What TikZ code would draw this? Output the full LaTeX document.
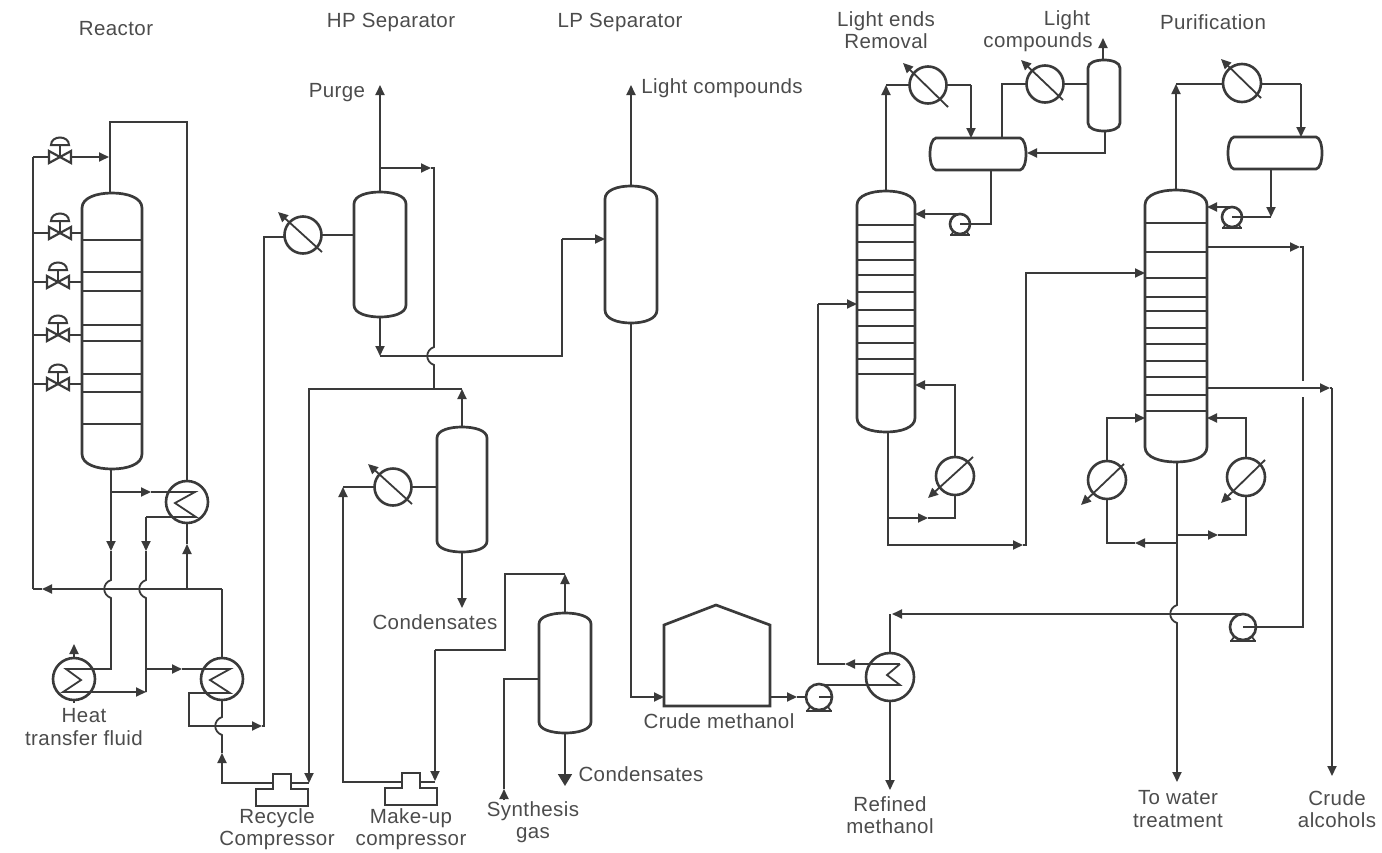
\documentclass[tikz,border=0pt]{standalone}
\usepackage{fontspec}
\setmainfont{Liberation Sans}[LetterSpace=2]
\usetikzlibrary{arrows.meta,calc}
\definecolor{ink}{HTML}{3A3A3A}
\definecolor{txt}{HTML}{4C4C4C}
\tikzset{
 pipeln/.style={draw=ink,line width=1.8pt,line join=miter},
 flowtip/.style={-{Triangle[length=10pt,width=9pt]}},
 bigtip/.style={-{Triangle[length=12pt,width=14pt]}},
 shell/.style={draw=ink,line width=2.7pt,fill=white},
 tray/.style={draw=ink,line width=1.7pt},
 box/.style={inner sep=0pt,outer sep=0pt,draw=none},
 hx/.style={circle,inner sep=0pt,outer sep=0pt,draw=ink,line width=2.6pt,fill=white},
 lab/.style={text=txt,align=center,inner sep=0pt,font=\fontsize{20.5}{22.5}\selectfont},
}
% a hop of a vertical line over a horizontal one, written top to bottom
\def\hop#1#2{-- (#1,#2-9) .. controls (#1-9,#2-6) and (#1-9,#2+6) .. (#1,#2+9)}
\newcommand{\vessel}[6]{% name x1 y1 x2 y2 head
 \pgfmathsetmacro{\vW}{#4-#2}\pgfmathsetmacro{\vH}{#5-#3}
 \pgfmathsetmacro{\vX}{(#2+#4)/2}\pgfmathsetmacro{\vY}{(#3+#5)/2}
 \pgfmathsetmacro{\vQ}{0.25*\vW}
 \node[box,minimum width=\vW pt,minimum height=\vH pt] (#1) at (\vX,\vY) {};
 \draw[shell] (#2,#5-#6) -- (#2,#3+#6) .. controls (#2,#3+0.3*#6) and (#2+\vQ,#3) .. (\vX,#3)
   .. controls (#4-\vQ,#3) and (#4,#3+0.3*#6) .. (#4,#3+#6) -- (#4,#5-#6)
   .. controls (#4,#5-0.3*#6) and (#4-\vQ,#5) .. (\vX,#5)
   .. controls (#2+\vQ,#5) and (#2,#5-0.3*#6) .. (#2,#5-#6) -- cycle;
}
\newcommand{\drum}[5]{% name x1 y1 x2 y2
 \pgfmathsetmacro{\vW}{#4-#2}\pgfmathsetmacro{\vH}{#5-#3}
 \pgfmathsetmacro{\vX}{(#2+#4)/2}\pgfmathsetmacro{\vY}{(#3+#5)/2}
 \node[box,minimum width=\vW pt,minimum height=\vH pt] (#1) at (\vX,\vY) {};
 \draw[shell] (#2+7,#3) -- (#4-7,#3) .. controls (#4+1,#3+1) and (#4+1,#5-1) .. (#4-7,#5)
   -- (#2+7,#5) .. controls (#2-1,#5-1) and (#2-1,#3+1) .. (#2+7,#3) -- cycle;
}
\newcommand{\valve}[3]{% name x y
 \node[box,minimum width=22pt,minimum height=12pt] (#1) at (#2,#3) {};
 \draw[draw=ink,line width=2.2pt] (#2-11,#3-6) -- (#2+11,#3+6) -- (#2+11,#3-6) -- (#2-11,#3+6) -- cycle;
 \draw[draw=ink,line width=1.8pt] (#2,#3) -- (#2,#3-12);
 \draw[draw=ink,line width=2pt] (#2-9,#3-12) .. controls (#2-9,#3-22) and (#2+9,#3-22) .. (#2+9,#3-12) -- cycle;
}
\newcommand{\pump}[4]{% name x y r
 \node[hx,minimum size=2*#4 pt] (#1) at (#2,#3) {};
 \draw[draw=ink,line width=2.5pt] (#2-#4,#3+#4+1) -- (#2+#4,#3+#4+1);
 \draw[draw=ink,line width=1.7pt] (#2-#4+4,#3+#4-3) -- (#2-#4+1,#3+#4+1) (#2+#4-4,#3+#4-3) -- (#2+#4-1,#3+#4+1);
}
\newcommand{\compressor}[3]{% name x y: base centre x, tower top y
 \node[box,minimum width=52pt,minimum height=32pt] (#1) at (#2,#3+16) {};
 \draw[draw=ink,line width=2.9pt] (#2-9,#3) -- (#2+9,#3) -- (#2+9,#3+15) -- (#2+26,#3+15) -- (#2+26,#3+32)
   -- (#2-26,#3+32) -- (#2-26,#3+15) -- (#2-9,#3+15) -- cycle;
 \coordinate (#1L) at (#2-9,#3+9);
 \coordinate (#1R) at (#2+9,#3+9);
}
\begin{document}
\begin{tikzpicture}[x=1pt,y=-1pt]
\useasboundingbox (0,0) rectangle (1382,852);
\fill[white] (0,0) rectangle (1382,852);

% ---------- vessels
\vessel{rx}{82}{193}{142}{469}{15}
\foreach \y in {240,272,291,325,341,374,392,424} \draw[tray] (rx.west |- 0,\y) -- (rx.east |- 0,\y);
\vessel{hp}{354}{192}{406}{317}{12}
\vessel{lp}{605}{186}{657}{323}{13}
\vessel{ss}{437}{427}{487}{552}{11}
\vessel{sg}{539}{613}{591}{733}{11}
\vessel{le}{857}{191}{915}{432}{14}
\foreach \y in {225,242,260,275,292,310,326,343,359,374} \draw[tray] (le.west |- 0,\y) -- (le.east |- 0,\y);
\vessel{pu}{1145}{190}{1207}{462}{15}
\foreach \y in {223,252,278,297,311,328,344,361,377,395,411} \draw[tray] (pu.west |- 0,\y) -- (pu.east |- 0,\y);
\vessel{lc}{1088}{60}{1120}{131}{8}
\drum{da}{929}{138}{1027}{170}
\drum{db}{1227}{137}{1323}{169}

% tank
\node[box,minimum width=106pt,minimum height=101pt] (tk) at (717,655.5) {};
\draw[shell] (664,706) -- (664,625) -- (716,605) -- (770,625) -- (770,706) -- cycle;

% ---------- heat exchangers and condensers
\node[hx,minimum size=42pt] (ea) at (187,502) {};
\node[hx,minimum size=42pt] (eb) at (222,679) {};
\node[hx,minimum size=42pt] (ec) at (74,679) {};
\node[hx,minimum size=48pt] (ed) at (890,677) {};
\node[hx,minimum size=37pt] (ca) at (303,235) {};
\node[hx,minimum size=37pt] (cb) at (393,487) {};
\node[hx,minimum size=37pt] (cc) at (928,85) {};
\node[hx,minimum size=37pt] (cd) at (1045,84) {};
\node[hx,minimum size=38pt] (ce) at (1242,83) {};
\node[hx,minimum size=38pt] (rb) at (955,476) {};
\node[hx,minimum size=38pt] (rc) at (1107,480) {};
\node[hx,minimum size=38pt] (rd) at (1246,477) {};

% diagonals
\draw[pipeln,flowtip] ([shift={(19,17)}]ca.center) -- ([shift={(-25,-23)}]ca.center);
\draw[pipeln,flowtip] ([shift={(19,17)}]cb.center) -- ([shift={(-25,-23)}]cb.center);
\draw[pipeln,flowtip] ([shift={(20,22)}]cc.center) -- ([shift={(-25,-22)}]cc.center);
\draw[pipeln,flowtip] ([shift={(18,16)}]cd.center) -- ([shift={(-24,-24)}]cd.center);
\draw[pipeln,flowtip] ([shift={(19,15)}]ce.center) -- ([shift={(-21,-24)}]ce.center);
\draw[pipeln,flowtip] ([shift={(18,-19)}]rb.center) -- ([shift={(-27,22)}]rb.center);
\draw[pipeln,flowtip] ([shift={(17,-16)}]rc.center) -- ([shift={(-26,25)}]rc.center);
\draw[pipeln,flowtip] ([shift={(19,-17)}]rd.center) -- ([shift={(-25,26)}]rd.center);

% ---------- pumps, compressors, valves
\pump{pa}{819}{697}{13}
\pump{pb}{960}{224}{10}
\pump{pc}{1232}{217}{10}
\pump{pd}{1243}{627}{13}
\draw[pipeln] (pa.center) -- (pa.east);
\draw[pipeln] (pb.center) -- (pb.east);
\draw[pipeln] (pc.center) -- (pc.east);
\draw[pipeln] (pd.center) -- (pd.east);
\compressor{ka}{282}{774}
\compressor{kb}{411}{773}
\valve{va}{60}{157}
\valve{vb}{60}{233}
\valve{vc}{58}{282}
\valve{vd}{58}{335}
\valve{ve}{58}{384}

% ---------- reactor loop
\coordinate (hdr) at (33,589);
\draw[pipeln] (33,157) -- (hdr);
\draw[pipeln,flowtip] (222,589) -- (42,589);
\draw[pipeln] (42,589) -- (hdr);
\draw[pipeln] (33,157) -- (va.west);
\draw[pipeln,flowtip] (va.east) -- (109,157);
\foreach \v/\y in {vb/233,vc/282,vd/335,ve/384}{
  \draw[pipeln] (33,\y) -- (\v.west);
  \draw[pipeln] (\v.east) -- (rx.west |- 0,\y);
}
\draw[pipeln] (rx.north -| 110,0) -- (110,122) -- (187,122) -- (ea.north);
\draw[pipeln,flowtip] (rx.south -| 111,0) -- (111,551);
\draw[pipeln] (111,551) \hop{111}{589} -- (111,669) -- (66,669) -- (81,680) -- (63,692) -- (93,692);
\draw[pipeln,flowtip] (93,692) -- (146,692);
\draw[pipeln,flowtip] (111,492) -- (151,492);
\draw[pipeln] (151,492) -- (195,492) -- (175,503) -- (196,517) -- (146,517);
\draw[pipeln,flowtip] (146,517) -- (146,551);
\draw[pipeln] (146,551) \hop{146}{589} -- (146,692);
\draw[pipeln,flowtip] (146,669) -- (182,669);
\draw[pipeln] (182,669) -- (230,669) -- (210,680) -- (230,693) -- (189,693) -- (189,726) -- (250,726);
\draw[pipeln,flowtip] (250,726) -- (262,726);
\draw[pipeln] (262,726) -- (264,726) -- (264,237) -- (ca.west |- 0,237);
\draw[pipeln,flowtip] (187,589) -- (187,544);
\draw[pipeln] (187,544) -- (ea.south);
\draw[pipeln] (222,589) -- (eb.north);
\draw[pipeln,flowtip] (ec.north) -- (74,644);
\draw[pipeln] (ec.south) -- (74,703);
\draw[pipeln,flowtip] (kaL) -- (222,783) -- (222,753);
\draw[pipeln] (eb.south) \hop{222}{726} -- (222,753);

% ---------- HP separator
\draw[pipeln] (ca.east) -- (hp.west |- ca.east);
\draw[pipeln,flowtip] (hp.north) -- (380,85);
\draw[pipeln,flowtip] (380,168) -- (431,168);
\draw[pipeln] (431,168) -- (434,168) \hop{434}{356} -- (434,389);
\draw[pipeln,flowtip] (hp.south) -- (380,356);
\draw[pipeln] (380,356) -- (562,356) -- (562,239);
\draw[pipeln,flowtip] (562,239) -- (lp.west |- 0,239);
\draw[pipeln] (308,389) -- (462,389);
\draw[pipeln,flowtip] (309,389) -- (309,783);
\draw[pipeln] (309,783) -- (kaR);

% ---------- condensate separator, make-up
\draw[pipeln,flowtip] (ss.north) -- (462,389);
\draw[pipeln] (cb.east) -- (ss.west |- cb.east);
\draw[pipeln,flowtip] (ss.south) -- (462,608);
\draw[pipeln,flowtip] (kbL) -- (343,782) -- (343,487);
\draw[pipeln] (343,487) -- (cb.west);
\draw[pipeln,flowtip] (435,650) -- (435,781);
\draw[pipeln] (435,782) -- (kbR);
\draw[pipeln] (435,650) -- (505,650) -- (505,574) -- (565,574);
\draw[pipeln,flowtip] (sg.north) -- (565,574);
\draw[pipeln,bigtip] (sg.south) -- (565,786);
\draw[pipeln,flowtip] (504,800) -- (504,789);
\draw[pipeln] (504,789) -- (504,679) -- (sg.west |- 0,679);

% ---------- LP separator and tank
\draw[pipeln,flowtip] (lp.north) -- (631,85);
\draw[pipeln] (lp.south) -- (631,697) -- (650,697);
\draw[pipeln,flowtip] (650,697) -- (tk.west |- 0,697);
\draw[pipeln,flowtip] (tk.east |- 0,697) -- (797,697);
\draw[pipeln] (797,697) -- (pa.west);

% ---------- feed exchanger
\draw[pipeln] (825,685) -- (900,685) -- (887,675) -- (900,664);
\draw[pipeln,flowtip] (900,664) -- (845,664);
\draw[pipeln] (845,664) -- (818,664) -- (818,304);
\draw[pipeln,flowtip] (818,304) -- (le.west |- 0,304);
\draw[pipeln,flowtip] (pd.north) -- (892,614);
\draw[pipeln] (890,614) -- (ed.north);
\draw[pipeln,flowtip] (ed.south) -- (890,790);

% ---------- light ends
\draw[pipeln,flowtip] (le.north) -- (886,85);
\draw[pipeln] (886,85) -- (cc.west);
\draw[pipeln] (cc.east) -- (971,85);
\draw[pipeln,flowtip] (971,85) -- (da.north -| 971,0);
\draw[pipeln] (da.north -| 1002,0) -- (1002,84) -- (cd.west);
\draw[pipeln] (cd.east) -- (lc.west |- cd.east);
\draw[pipeln,flowtip] (lc.north -| 1103,0) -- (1103,38);
\draw[pipeln] (lc.south -| 1105,0) -- (1105,153) -- (1040,153);
\draw[pipeln,flowtip] (1105,153) -- (da.east |- 0,153);
\draw[pipeln] (da.south -| 991,0) -- (991,224) -- (pb.east);
\draw[pipeln,flowtip] (pb.north) -- (le.east |- pb.north);
\draw[pipeln,flowtip] (rb.north) -- (955,385) -- (le.east |- 0,385);
\draw[pipeln] (le.south -| 888,0) -- (888,545) -- (1010,545);
\draw[pipeln,flowtip] (888,518) -- (928,518);
\draw[pipeln] (928,518) -- (955,518) -- (rb.south);
\draw[pipeln,flowtip] (1010,545) -- (1023,545);
\draw[pipeln] (1023,545) -- (1026,545) -- (1026,273) -- (1120,273);
\draw[pipeln,flowtip] (1120,273) -- (pu.west |- 0,273);

% ---------- purification
\draw[pipeln,flowtip] (pu.north -| 1176,0) -- (1176,84);
\draw[pipeln] (1176,84) -- (ce.west |- 0,84);
\draw[pipeln] (ce.east |- 0,84) -- (1301,84);
\draw[pipeln,flowtip] (1301,84) -- (db.north -| 1301,0);
\draw[pipeln,flowtip] (db.south -| 1271,0) -- (1271,217);
\draw[pipeln] (1271,217) -- (pc.east);
\draw[pipeln,flowtip] (pc.north) -- (pu.east |- pc.north);
\draw[pipeln,flowtip] (pu.east |- 0,247) -- (1300,247);
\draw[pipeln] (1300,247) -- (1303,247) -- (1303,381);
\draw[pipeln] (1303,397) -- (1303,627) -- (pd.east);
\draw[pipeln,flowtip] (pu.east |- 0,388) -- (1330,388);
\draw[pipeln,flowtip] (1332,388) -- (1332,776);
\draw[pipeln] (1330,388) -- (1332,388);
\draw[pipeln,flowtip] (rc.north) -- (1107,418) -- (pu.west |- 0,418);
\draw[pipeln,flowtip] (rd.north) -- (1246,418) -- (pu.east |- 0,418);
\draw[pipeln,flowtip] (pu.south -| 1177,0) -- (1177,600) \hop{1177}{614} -- (1177,782);
\draw[pipeln,flowtip] (1177,543) -- (1135,543);
\draw[pipeln] (1135,543) -- (1107,543) -- (rc.south);
\draw[pipeln,flowtip] (1177,535) -- (1218,535);
\draw[pipeln] (1218,535) -- (1246,535) -- (rd.south);

% ---------- labels
\node[lab] (t1) at (116,29) {Reactor};
\node[lab] (t2) at (391,22) {HP Separator};
\node[lab] (t3) at (620,22) {LP Separator};
\node[lab] (t4) at (886,30) {Light ends\\Removal};
\node[lab] (t5a) at (1067,20) {Light};
\node[lab] (t5b) at (1038,42) {compounds};
\node[lab] (t6) at (1213,22) {Purification};
\node[lab] (t7) at (337,93) {Purge};
\node[lab] (t8) at (722,88) {Light compounds};
\node[lab] (t9) at (84,727) {Heat\\transfer fluid};
\node[lab] (t10) at (277,829) {Recycle\\Compressor};
\node[lab] (t11) at (411,829) {Make-up\\compressor};
\node[lab] (t12) at (533,822) {Synthesis\\gas};
\node[lab] (t13) at (435,622) {Condensates};
\node[lab] (t14) at (641,774) {Condensates};
\node[lab] (t15) at (719,721) {Crude methanol};
\node[lab] (t16) at (890,815) {Refined\\methanol};
\node[lab] (t17) at (1178,809) {To water\\treatment};
\node[lab] (t18) at (1337,809) {Crude\\alcohols};
\end{tikzpicture}
\end{document}
